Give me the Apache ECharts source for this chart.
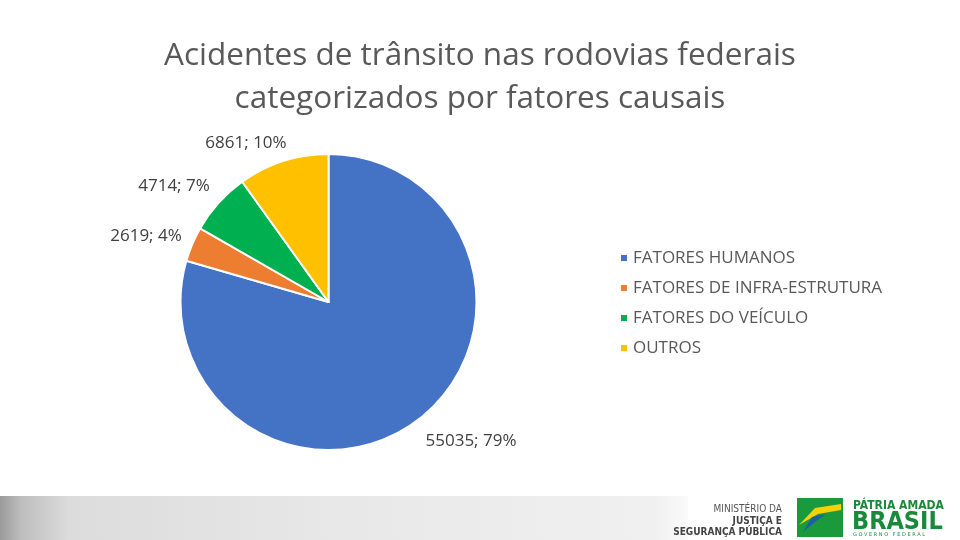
<!DOCTYPE html>
<html><head><meta charset="utf-8">
<script src="https://cdn.jsdelivr.net/npm/echarts@6/dist/echarts.min.js"></script>
<style>html,body{margin:0;padding:0;background:#fff}#c{width:960px;height:540px}</style>
</head><body><div id="c"></div>
<script>
const categories = ['FATORES HUMANOS', 'FATORES DE INFRA-ESTRUTURA', 'FATORES DO VEÍCULO', 'OUTROS'];
const values = [55035, 2619, 4714, 6861];
const colors = ['#4472C4', '#ED7D31', '#00B050', '#FFC000'];
const titleLines = ['Acidentes de trânsito nas rodovias federais', 'categorizados por fatores causais'];

const labelPos = [[471, 441], [146, 236], [174, 186], [246, 143]];
const font = '"Open Sans", "Noto Sans", sans-serif';

const chart = echarts.init(document.getElementById('c'), null, {renderer: 'canvas'});
chart.setOption({
  animation: false,
  color: colors,
  title: {
    text: titleLines.join('\n'),
    left: 'center', top: 30,
    textStyle: {fontFamily: font, fontSize: 31.5, fontWeight: 'normal', color: '#595959', lineHeight: 43}
  },
  legend: {
    orient: 'vertical', left: 614, top: 243,
    icon: 'rect', itemWidth: 8, itemHeight: 8, itemGap: 10,
    textStyle: {fontFamily: font, fontSize: 17, color: '#595959', lineHeight: 20, padding: [0,0,0,0]},
    data: categories
  },
  series: [{
    type: 'pie',
    center: [328.5, 302], radius: 148,
    startAngle: 90, clockwise: true,
    percentPrecision: 0,
    itemStyle: {borderColor: '#fff', borderWidth: 2},
    label: {show: true, position: 'outside', formatter: '{c}; {d}%', fontFamily: font, fontSize: 17, color: '#404040'},
    labelLine: {show: false},
    labelLayout: function (p) {
      const pos = labelPos[p.dataIndex];
      return {x: pos[0], y: pos[1], align: 'center', verticalAlign: 'middle'};
    },
    data: categories.map((n, i) => ({name: n, value: values[i]}))
  }],
  graphic: [
    {type: 'rect', shape: {x: 0, y: 496, width: 688, height: 44}, silent: true,
     style: {fill: new echarts.graphic.LinearGradient(0, 0, 1, 0, [
       {offset: 0, color: '#9a9a9a'}, {offset: 0.03, color: '#bdbdbd'}, {offset: 0.1, color: '#dcdcdc'},
       {offset: 0.5, color: '#e8e8e8'}, {offset: 0.95, color: '#f0f0f0'}, {offset: 1, color: '#fafafa'}])}},
    {type: 'text', x: 782, y: 509, style: {text: 'MINISTÉRIO DA', align: 'right', verticalAlign: 'middle', fontFamily: '"DejaVu Sans Condensed",sans-serif', fontSize: 10, fill: '#555'}},
    {type: 'text', x: 782, y: 521, style: {text: 'JUSTIÇA E', align: 'right', verticalAlign: 'middle', fontFamily: '"DejaVu Sans Condensed",sans-serif', fontWeight: 'bold', fontSize: 10, fill: '#444'}},
    {type: 'text', x: 782, y: 532, style: {text: 'SEGURANÇA PÚBLICA', align: 'right', verticalAlign: 'middle', fontFamily: '"DejaVu Sans Condensed",sans-serif', fontWeight: 'bold', fontSize: 10, fill: '#444'}},
    {type: 'rect', shape: {x: 797, y: 498, width: 46, height: 39}, style: {fill: '#1a9a3a'}},
    {type: 'polygon', shape: {points: [[799, 525], [815, 508], [841, 504], [841, 510], [818, 514]]}, style: {fill: '#f4d20a'}},
    {type: 'polygon', shape: {points: [[803, 532], [812, 517], [826, 514], [815, 522]]}, style: {fill: '#1f5fa8'}},
    {type: 'text', x: 853, y: 506, style: {text: 'PÁTRIA AMADA', verticalAlign: 'middle', fontFamily: '"DejaVu Sans Condensed",sans-serif', fontWeight: 'bold', fontSize: 12, fill: '#1a8a3a'}},
    {type: 'text', x: 852, y: 522, style: {text: 'BRASIL', verticalAlign: 'middle', fontFamily: '"DejaVu Sans Condensed",sans-serif', fontWeight: 'bold', fontSize: 25, fill: '#1a8a3a'}},
    {type: 'text', x: 853, y: 535, style: {text: 'G O V E R N O   F E D E R A L', verticalAlign: 'middle', fontFamily: '"DejaVu Sans",sans-serif', fontSize: 5, fill: '#1a8a3a'}}
  ]
});
</script>
</body></html>
